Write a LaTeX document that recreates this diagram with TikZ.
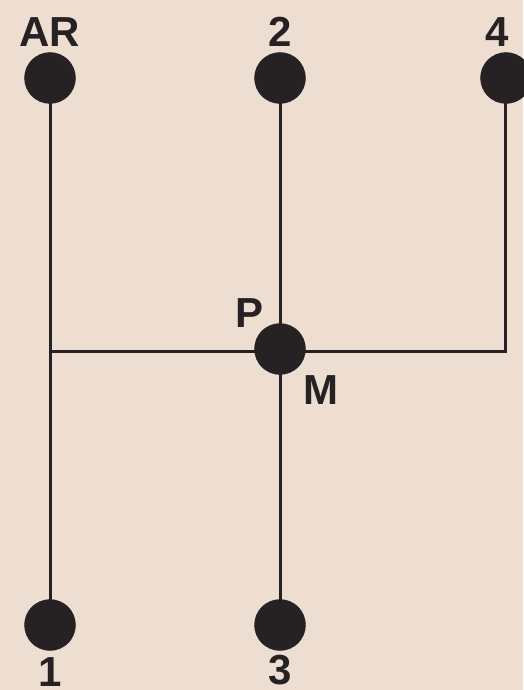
\documentclass[tikz,border=0pt]{standalone}
\usepackage{fontspec}
\setmainfont{Liberation Sans}
\definecolor{paper}{RGB}{238,222,210}
\definecolor{ink}{RGB}{38,34,36}
\begin{document}
\begin{tikzpicture}[x=1pt,y=-1pt,
  knob/.style={circle,fill=ink,draw=ink,minimum size=51pt,inner sep=0pt},
  lbl/.style={font=\fontsize{42}{42}\selectfont\bfseries,text=ink,inner sep=0pt},
  rail/.style={draw=ink,line width=3pt}]
\fill[paper] (0,0) rectangle (523,690);
\useasboundingbox (0,0) rectangle (523,690);
\coordinate (L) at (50,351);
\coordinate (R) at (505,351);
\draw[rail] (50,78) -- (50,625);
\draw[rail] (280,78) -- (280,625);
\draw[rail] (L) -- (R) -- (505,78);
\node[knob] (ar) at (50,78) {};
\node[knob] (g2) at (280,78) {};
\node[knob] (g4) at (506,78) {};
\node[knob] (pm) at (280,349) {};
\node[knob] (g1) at (50,625) {};
\node[knob] (g3) at (280,625) {};
\node[lbl] (tar) at (50,32) {AR};
\node[lbl] (t2) at (280,32) {2};
\node[lbl] (t4) at (497,32) {4};
\node[lbl] (tp) at (250,313) {P};
\node[lbl] (tm) at (321,390) {M};
\node[lbl] (t1) at (50,672) {1};
\node[lbl] (t3) at (280,670) {3};
\end{tikzpicture}
\end{document}
